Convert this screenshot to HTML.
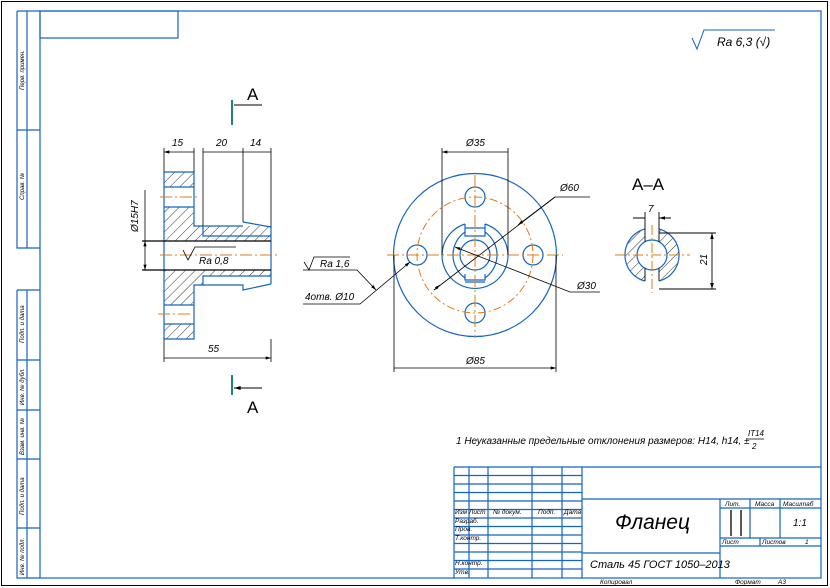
<!DOCTYPE html>
<html><head><meta charset="utf-8"><style>
html,body{margin:0;padding:0;background:#fff}
svg{display:block}
text{font-family:"Liberation Sans","DejaVu Sans",sans-serif;font-style:italic;fill:#000}
text.n{font-style:normal}
</style></head><body>
<svg width="830" height="588" viewBox="0 0 830 588" xmlns="http://www.w3.org/2000/svg">
<defs>
<pattern id="h" patternUnits="userSpaceOnUse" width="7" height="7" patternTransform="rotate(45)">
<line x1="0" y1="0" x2="0" y2="7" stroke="#000" stroke-width="0.8"/>
</pattern>
<marker id="a" viewBox="0 0 10 6" refX="10" refY="3" markerWidth="9" markerHeight="4" orient="auto-start-reverse"><path d="M0,0L10,3L0,6z" fill="#000"/></marker>
</defs>
<rect x="1.5" y="1.5" width="826" height="584" fill="none" stroke="#000" stroke-width="1"/>
<g fill="none" stroke="#1565c0" stroke-width="1.2">
<rect x="40" y="11" width="781" height="567"/>
<rect x="40" y="11" width="138" height="27"/>
<path d="M17,11H40M17,11V248H40M27,11V248M17,130H40"/>
<path d="M17,290H40M17,290V578H40M27,290V578M17,360H40M17,410H40M17,459H40M17,528H40"/>
<path d="M454,467H821M454,467V578M469,467V578M488,467V578M532,467V578M562,467V578M582,467V578"/>
<path d="M454,475.5H582M454,484H582M454,492.5H582M454,501H582M454,509.5H582M454,518H582M454,526.5H582M454,535H582M454,543.5H582M454,552H582M454,560.5H582M454,569H582"/>
<path d="M582,499H821M582,553H720M720,499V578M720,508H821M720,538H821M720,546H821M750,499V538M780,499V538M760,538V546"/>
</g>
<g stroke="#000" stroke-width="1.3"><path d="M731,510V536M741,510V536"/></g>
<g font-size="6.5">
<text x="455" y="514">Изм Лист</text><text x="493" y="514">№ докум.</text><text x="538" y="514">Подп.</text><text x="564" y="514">Дата</text>
<text x="455" y="523">Разраб.</text><text x="455" y="531">Пров.</text><text x="455" y="540">Т.контр.</text>
<text x="455" y="565">Н.контр.</text><text x="455" y="574">Утв.</text>
<text x="725" y="506">Лит.</text><text x="755" y="506">Масса</text><text x="783" y="506">Масштаб</text>
<text x="722" y="544">Лист</text><text x="762" y="544">Листов</text><text x="805" y="544">1</text>
<text x="600" y="584">Копировал</text><text x="735" y="584">Формат</text><text x="778" y="584">А3</text>
</g>
<text x="793" y="526" font-size="10">1:1</text>
<text x="615" y="529" font-size="21">Фланец</text>
<text x="590" y="568" font-size="11">Сталь 45 ГОСТ 1050–2013</text>
<g font-size="6">
<text transform="translate(24,90) rotate(-90)">Перв. примен.</text>
<text transform="translate(24,200) rotate(-90)">Справ. №</text>
<text transform="translate(24,343) rotate(-90)">Подп. и дата</text>
<text transform="translate(24,405) rotate(-90)">Инв. № дубл.</text>
<text transform="translate(24,455) rotate(-90)">Взам. инв. №</text>
<text transform="translate(24,515) rotate(-90)">Подп. и дата</text>
<text transform="translate(24,575) rotate(-90)">Инв. № подл.</text>
</g>
<path d="M692,38L697,49L704,30H775" fill="none" stroke="#1565c0" stroke-width="1"/>
<text x="717" y="46" font-size="12">Ra 6,3 (√)</text>
<!-- LEFT VIEW -->
<g stroke="none">
<rect x="164" y="172" width="30" height="15" fill="url(#h)"/>
<rect x="164" y="207" width="30" height="34" fill="url(#h)"/>
<rect x="194" y="226" width="77" height="15" fill="url(#h)"/>
<rect x="164" y="270" width="30" height="35" fill="url(#h)"/>
<rect x="194" y="270" width="77" height="6" fill="url(#h)"/>
<rect x="194" y="276" width="9" height="9" fill="url(#h)"/>
<rect x="164" y="324" width="30" height="15" fill="url(#h)"/>
</g>
<g fill="none" stroke="#1565c0" stroke-width="1.2">
<path d="M164,172V339M164,172H194V226H243M243,222L271,227M194,187H164M164,207H194M271,227V284M203,226V236H271"/>
<path d="M164,305H194M164,324H194M164,339H194V285H203V276H271M203,285H243V290L271,284"/>
</g>
<g stroke="#000" stroke-width="1.2" fill="none"><path d="M142,241H271M142,270H271"/></g>
<g stroke="#e07b1a" stroke-width="1" stroke-dasharray="12,3,2,3" fill="none">
<path d="M160,255H278M160,197H198M158,314H198"/>
</g>
<g stroke="#000" stroke-width="0.8" fill="none">
<path d="M164,148V172M194,148V172M203,148V226M243,148V222M271,148V227M164,339V362M271,339V362"/>
<path d="M164,152H194M203,152H243M243,152H271M164,358H271" marker-start="url(#a)" marker-end="url(#a)"/>
<path d="M145,241V270" marker-start="url(#a)" marker-end="url(#a)"/>
<path d="M145,241V190"/>
<path d="M183,250L188,260L195,247H236"/>
</g>
<g font-size="10"><text x="172" y="146">15</text><text x="216" y="146">20</text><text x="250" y="146">14</text><text x="208" y="352">55</text>
<text transform="translate(138,232) rotate(-90)">Ø15H7</text><text x="199" y="264">Ra 0,8</text></g>
<g stroke="#1a8a6a" stroke-width="2"><path d="M232,100V125M232,375V395"/></g>
<g stroke="#000" stroke-width="1"><path d="M262,105H234M262,388H234" marker-end="url(#a)"/></g>
<text class="n" x="247" y="100" font-size="17">A</text>
<text class="n" x="247" y="413" font-size="17">A</text>
<!-- FRONT VIEW -->
<g fill="none" stroke="#1565c0" stroke-width="1.2">
<circle cx="475" cy="255" r="81.5"/>
<circle cx="475" cy="197" r="10"/><circle cx="475" cy="313" r="10"/><circle cx="417" cy="255" r="10"/><circle cx="533" cy="255" r="10"/>
<circle cx="475" cy="255" r="15"/>
<path d="M465,224A33,33 0 1 0 485,224M465,224V230M485,224V230"/>
<path d="M465,232A28,28 0 0 0 465,278M485,232A28,28 0 0 1 485,278"/>
<path d="M465,228H485M465,230V236H485V230M465,282H485M465,274V280H485V274"/>
</g>
<g stroke="#e07b1a" stroke-width="1" fill="none">
<circle cx="475" cy="255" r="58" stroke-dasharray="8,3,2,3"/>
<path d="M387,255H563M475,175V338" stroke-dasharray="12,3,2,3"/>
</g>
<g stroke="#000" stroke-width="0.8" fill="none">
<path d="M442,148V255M508,148V255M394,255V372M556,255V372"/>
<path d="M442,152H508M394,368H556" marker-start="url(#a)" marker-end="url(#a)"/>
<path d="M590,197H555L434,290" />
<path d="M555,197L518,225" marker-end="url(#a)"/>
<path d="M434,290L440,285" marker-end="url(#a)"/>
<path d="M600,292H570L455,247" marker-end="url(#a)"/>
<path d="M303,270H357L376,290" marker-end="url(#a)"/>
<path d="M303,304H360L410,262" marker-end="url(#a)"/>
<path d="M304,262L309,270L314,257H350"/>
</g>
<g font-size="10"><text x="466" y="146">Ø35</text><text x="466" y="364">Ø85</text><text x="560" y="191">Ø60</text><text x="577" y="289">Ø30</text>
<text x="320" y="267">Ra 1,6</text><text x="305" y="300">4отв. Ø10</text></g>
<!-- SECTION A-A -->
<text class="n" x="632" y="190" font-size="17">A–A</text>
<path d="M659,228.9A27,27 0 0 1 659,281.1V268.3A15,15 0 0 0 659,241.7Z M645,228.9A27,27 0 0 0 645,281.1V268.3A15,15 0 0 1 645,241.7Z" fill="url(#h)" stroke="none"/>
<g fill="none" stroke="#1565c0" stroke-width="1.2"><path d="M659,228.9A27,27 0 0 1 659,281.1M645,228.9A27,27 0 0 0 645,281.1"/><circle cx="652" cy="255" r="15"/></g>
<g stroke="#000" stroke-width="0.9" fill="none"><path d="M645,212V241.7M659,212V241.7M659,233H716M659,289H716M645,268.3V281M659,268.3V281"/>
<path d="M633,218H645M671,218H659" marker-end="url(#a)"/><path d="M712,233V289" marker-start="url(#a)" marker-end="url(#a)"/></g>
<g stroke="#e07b1a" stroke-width="1" fill="none" stroke-dasharray="10,3,2,3"><path d="M615,255H690M652,225V293"/></g>
<text x="648" y="212" font-size="10">7</text>
<text transform="translate(707,265) rotate(-90)" font-size="10">21</text>
<text x="456" y="444" font-size="10">1 Неуказанные предельные отклонения размеров: H14, h14, ±</text>
<text x="748" y="436" font-size="8">IT14</text><path d="M747,439H764" stroke="#000" stroke-width="0.7"/><text x="752" y="449" font-size="8">2</text>
</svg>
</body></html>
